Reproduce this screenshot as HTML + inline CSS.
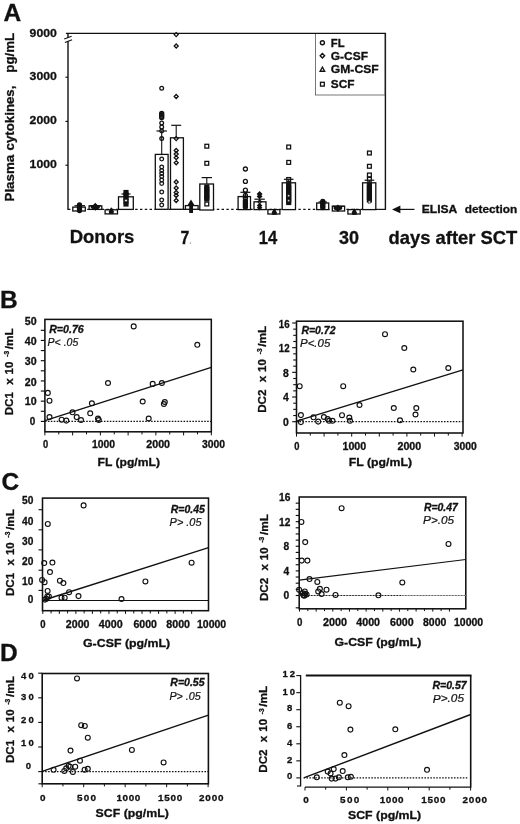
<!DOCTYPE html>
<html><head><meta charset="utf-8"><title>Figure</title>
<style>html,body{margin:0;padding:0;background:#fff;}svg{display:block;filter:blur(0.33px);}text{font-family:"Liberation Sans",sans-serif;fill:#111;}</style></head><body>
<svg width="520" height="824" viewBox="0 0 520 824">
<rect x="0" y="0" width="520" height="824" fill="#fff"/>
<text x="3.40" y="20.90" font-size="24.5" font-weight="bold" stroke="#111" stroke-width="0.3">A</text>
<g transform="translate(14.1 201.5) rotate(-90)" font-weight="bold" font-size="13.3" stroke="#111" stroke-width="0.3">
<text x="0" y="0" textLength="46.8" lengthAdjust="spacingAndGlyphs">Plasma</text>
<text x="51.1" y="0" textLength="64.8" lengthAdjust="spacingAndGlyphs">cytokines,</text>
<text x="128.8" y="0" textLength="39.7" lengthAdjust="spacingAndGlyphs">pg/mL</text>
</g>
<text x="29.60" y="37.40" font-size="11.3" font-weight="bold" textLength="27.20" lengthAdjust="spacingAndGlyphs" stroke="#111" stroke-width="0.3">9000</text>
<text x="29.60" y="80.00" font-size="11.3" font-weight="bold" textLength="27.20" lengthAdjust="spacingAndGlyphs" stroke="#111" stroke-width="0.3">3000</text>
<text x="29.60" y="123.80" font-size="11.3" font-weight="bold" textLength="27.20" lengthAdjust="spacingAndGlyphs" stroke="#111" stroke-width="0.3">2000</text>
<text x="29.60" y="168.00" font-size="11.3" font-weight="bold" textLength="27.20" lengthAdjust="spacingAndGlyphs" stroke="#111" stroke-width="0.3">1000</text>
<line x1="68.00" y1="33.40" x2="68.00" y2="37.70" stroke="#111" stroke-width="1.4"/>
<line x1="68.00" y1="41.00" x2="68.00" y2="209.90" stroke="#111" stroke-width="1.4"/>
<line x1="64.20" y1="39.00" x2="71.60" y2="36.30" stroke="#111" stroke-width="1.1"/>
<line x1="64.90" y1="42.60" x2="72.10" y2="39.70" stroke="#111" stroke-width="1.1"/>
<line x1="65.40" y1="77.20" x2="68.00" y2="77.20" stroke="#111" stroke-width="1.15"/>
<line x1="65.40" y1="121.40" x2="68.00" y2="121.40" stroke="#111" stroke-width="1.15"/>
<line x1="65.40" y1="165.20" x2="68.00" y2="165.20" stroke="#111" stroke-width="1.15"/>
<line x1="385.40" y1="33.40" x2="385.40" y2="209.90" stroke="#111" stroke-width="1.4"/>
<line x1="68.00" y1="209.40" x2="362.00" y2="209.40" stroke="#111" stroke-width="1.3" stroke-dasharray="2.4 2.4"/>
<line x1="376.00" y1="209.40" x2="385.40" y2="209.40" stroke="#111" stroke-width="1.2"/>
<rect x="72.80" y="207.10" width="12.50" height="3.90" fill="#fff" stroke="#111" stroke-width="1.3"/>
<rect x="89.10" y="205.90" width="12.70" height="3.50" fill="#fff" stroke="#111" stroke-width="1.3"/>
<rect x="105.10" y="209.80" width="12.40" height="4.10" fill="#fff" stroke="#111" stroke-width="1.3"/>
<rect x="118.50" y="196.80" width="14.80" height="12.60" fill="#fff" stroke="#111" stroke-width="1.3"/>
<circle cx="79.50" cy="205.00" r="2.0" fill="#111" stroke="#111" stroke-width="1.3"/>
<circle cx="79.50" cy="207.00" r="2.0" fill="#111" stroke="#111" stroke-width="1.3"/>
<circle cx="79.50" cy="209.00" r="2.0" fill="#111" stroke="#111" stroke-width="1.3"/>
<circle cx="79.50" cy="210.60" r="2.0" fill="#111" stroke="#111" stroke-width="1.3"/>
<line x1="74.50" y1="205.70" x2="85.00" y2="205.70" stroke="#111" stroke-width="1.2"/>
<path d="M95.30 203.70L97.60 206.00L95.30 208.30L93.00 206.00Z" fill="#111" stroke="#111" stroke-width="1.2"/>
<path d="M95.30 205.30L97.60 207.60L95.30 209.90L93.00 207.60Z" fill="#111" stroke="#111" stroke-width="1.2"/>
<ellipse cx="95.3" cy="207.0" rx="4.6" ry="2.3" fill="#111"/>
<line x1="89.50" y1="205.70" x2="101.00" y2="205.70" stroke="#111" stroke-width="1.2"/>
<path d="M111.30 207.80L113.50 211.76L109.10 211.76Z" fill="#111" stroke="#111" stroke-width="1.0"/>
<path d="M111.30 209.30L113.50 213.26L109.10 213.26Z" fill="#111" stroke="#111" stroke-width="1.0"/>
<rect x="124.10" y="190.60" width="3.80" height="3.80" fill="#111" stroke="#111" stroke-width="1.4"/>
<rect x="124.10" y="193.10" width="3.80" height="3.80" fill="#111" stroke="#111" stroke-width="1.4"/>
<rect x="124.10" y="196.10" width="3.80" height="3.80" fill="#111" stroke="#111" stroke-width="1.4"/>
<rect x="124.10" y="199.10" width="3.80" height="3.80" fill="#111" stroke="#111" stroke-width="1.4"/>
<rect x="124.10" y="202.10" width="3.80" height="3.80" fill="#111" stroke="#111" stroke-width="1.4"/>
<rect x="124.80" y="199.30" width="2.40" height="2.40" fill="#fff" stroke="#111" stroke-width="0.6"/>
<line x1="121.50" y1="194.00" x2="130.50" y2="194.00" stroke="#111" stroke-width="1.2"/>
<line x1="161.70" y1="131.00" x2="161.70" y2="154.40" stroke="#111" stroke-width="1.1"/>
<line x1="156.50" y1="131.00" x2="166.90" y2="131.00" stroke="#111" stroke-width="1.2"/>
<rect x="155.30" y="154.40" width="12.80" height="54.90" fill="#fff" stroke="#111" stroke-width="1.3"/>
<line x1="176.20" y1="125.30" x2="176.20" y2="137.80" stroke="#111" stroke-width="1.1"/>
<line x1="171.20" y1="125.30" x2="181.20" y2="125.30" stroke="#111" stroke-width="1.2"/>
<rect x="170.50" y="137.80" width="12.90" height="71.50" fill="#fff" stroke="#111" stroke-width="1.3"/>
<rect x="185.40" y="205.60" width="12.70" height="3.70" fill="#fff" stroke="#111" stroke-width="1.3"/>
<line x1="206.80" y1="177.60" x2="206.80" y2="184.00" stroke="#111" stroke-width="1.1"/>
<line x1="201.60" y1="177.60" x2="212.00" y2="177.60" stroke="#111" stroke-width="1.2"/>
<rect x="199.80" y="184.00" width="13.70" height="26.00" fill="#fff" stroke="#111" stroke-width="1.3"/>
<circle cx="161.70" cy="88.30" r="1.85" fill="none" stroke="#111" stroke-width="1.3"/>
<circle cx="161.70" cy="123.00" r="1.85" fill="none" stroke="#111" stroke-width="1.3"/>
<circle cx="161.70" cy="127.00" r="1.85" fill="none" stroke="#111" stroke-width="1.3"/>
<circle cx="161.70" cy="131.00" r="1.85" fill="none" stroke="#111" stroke-width="1.3"/>
<circle cx="161.70" cy="138.60" r="1.85" fill="none" stroke="#111" stroke-width="1.3"/>
<circle cx="161.70" cy="159.00" r="1.85" fill="none" stroke="#111" stroke-width="1.3"/>
<circle cx="161.70" cy="167.00" r="1.85" fill="none" stroke="#111" stroke-width="1.3"/>
<circle cx="161.70" cy="170.50" r="1.85" fill="none" stroke="#111" stroke-width="1.3"/>
<circle cx="161.70" cy="173.50" r="1.85" fill="none" stroke="#111" stroke-width="1.3"/>
<circle cx="161.70" cy="176.50" r="1.85" fill="none" stroke="#111" stroke-width="1.3"/>
<circle cx="161.70" cy="180.00" r="1.85" fill="none" stroke="#111" stroke-width="1.3"/>
<circle cx="161.70" cy="183.50" r="1.85" fill="none" stroke="#111" stroke-width="1.3"/>
<circle cx="161.70" cy="192.00" r="1.85" fill="none" stroke="#111" stroke-width="1.3"/>
<circle cx="161.70" cy="200.00" r="1.85" fill="none" stroke="#111" stroke-width="1.3"/>
<circle cx="161.70" cy="205.00" r="1.85" fill="none" stroke="#111" stroke-width="1.3"/>
<circle cx="161.70" cy="113.50" r="2.0" fill="#333" stroke="#111" stroke-width="1.4"/>
<circle cx="161.70" cy="115.50" r="2.0" fill="#333" stroke="#111" stroke-width="1.4"/>
<circle cx="161.70" cy="117.50" r="2.0" fill="#333" stroke="#111" stroke-width="1.4"/>
<path d="M176.20 32.60L178.20 34.60L176.20 36.60L174.20 34.60Z" fill="none" stroke="#111" stroke-width="1.3"/>
<path d="M176.20 44.00L178.20 46.00L176.20 48.00L174.20 46.00Z" fill="none" stroke="#111" stroke-width="1.3"/>
<path d="M176.20 94.50L178.20 96.50L176.20 98.50L174.20 96.50Z" fill="none" stroke="#111" stroke-width="1.3"/>
<path d="M176.20 136.60L178.20 138.60L176.20 140.60L174.20 138.60Z" fill="none" stroke="#111" stroke-width="1.3"/>
<path d="M176.20 148.50L178.20 150.50L176.20 152.50L174.20 150.50Z" fill="none" stroke="#111" stroke-width="1.3"/>
<path d="M176.20 152.00L178.20 154.00L176.20 156.00L174.20 154.00Z" fill="none" stroke="#111" stroke-width="1.3"/>
<path d="M176.20 155.70L178.20 157.70L176.20 159.70L174.20 157.70Z" fill="none" stroke="#111" stroke-width="1.3"/>
<path d="M176.20 160.80L178.20 162.80L176.20 164.80L174.20 162.80Z" fill="none" stroke="#111" stroke-width="1.3"/>
<path d="M176.20 180.00L178.20 182.00L176.20 184.00L174.20 182.00Z" fill="none" stroke="#111" stroke-width="1.3"/>
<path d="M176.20 186.00L178.20 188.00L176.20 190.00L174.20 188.00Z" fill="none" stroke="#111" stroke-width="1.3"/>
<path d="M176.20 190.50L178.20 192.50L176.20 194.50L174.20 192.50Z" fill="none" stroke="#111" stroke-width="1.3"/>
<path d="M176.20 193.50L178.20 195.50L176.20 197.50L174.20 195.50Z" fill="none" stroke="#111" stroke-width="1.3"/>
<path d="M176.20 198.50L178.20 200.50L176.20 202.50L174.20 200.50Z" fill="none" stroke="#111" stroke-width="1.3"/>
<path d="M191.0 199.6L194.8 205.8L193.0 205.8L193.0 213.0L189.2 213.0L189.2 205.8L187.2 205.8Z" fill="#111"/>
<rect x="204.90" y="144.30" width="3.80" height="3.80" fill="none" stroke="#111" stroke-width="1.3"/>
<rect x="204.90" y="161.40" width="3.80" height="3.80" fill="none" stroke="#111" stroke-width="1.3"/>
<rect x="204.90" y="202.10" width="3.80" height="3.80" fill="none" stroke="#111" stroke-width="1.3"/>
<rect x="204.90" y="185.10" width="3.80" height="3.80" fill="#111" stroke="#111" stroke-width="1.4"/>
<rect x="204.90" y="187.60" width="3.80" height="3.80" fill="#111" stroke="#111" stroke-width="1.4"/>
<rect x="204.90" y="190.10" width="3.80" height="3.80" fill="#111" stroke="#111" stroke-width="1.4"/>
<rect x="204.90" y="192.60" width="3.80" height="3.80" fill="#111" stroke="#111" stroke-width="1.4"/>
<rect x="204.90" y="195.10" width="3.80" height="3.80" fill="#111" stroke="#111" stroke-width="1.4"/>
<rect x="204.90" y="197.10" width="3.80" height="3.80" fill="#111" stroke="#111" stroke-width="1.4"/>
<line x1="245.40" y1="192.30" x2="245.40" y2="196.60" stroke="#111" stroke-width="1.1"/>
<line x1="240.40" y1="192.30" x2="250.40" y2="192.30" stroke="#111" stroke-width="1.2"/>
<rect x="238.10" y="196.60" width="12.40" height="13.00" fill="#fff" stroke="#111" stroke-width="1.3"/>
<line x1="259.60" y1="199.20" x2="259.60" y2="201.80" stroke="#111" stroke-width="1.1"/>
<line x1="254.40" y1="199.20" x2="264.80" y2="199.20" stroke="#111" stroke-width="1.2"/>
<rect x="254.00" y="201.80" width="12.00" height="7.80" fill="#fff" stroke="#111" stroke-width="1.3"/>
<rect x="267.90" y="209.60" width="12.00" height="4.40" fill="#fff" stroke="#111" stroke-width="1.3"/>
<line x1="288.70" y1="179.30" x2="288.70" y2="182.80" stroke="#111" stroke-width="1.1"/>
<line x1="283.90" y1="179.30" x2="293.50" y2="179.30" stroke="#111" stroke-width="1.2"/>
<rect x="282.20" y="182.80" width="13.30" height="26.80" fill="#fff" stroke="#111" stroke-width="1.3"/>
<circle cx="245.40" cy="169.00" r="2.0" fill="none" stroke="#111" stroke-width="1.3"/>
<circle cx="245.40" cy="181.40" r="2.0" fill="none" stroke="#111" stroke-width="1.3"/>
<circle cx="245.40" cy="190.20" r="2.0" fill="none" stroke="#111" stroke-width="1.3"/>
<circle cx="245.40" cy="195.50" r="2.0" fill="none" stroke="#111" stroke-width="1.3"/>
<circle cx="245.40" cy="198.00" r="2.0" fill="none" stroke="#111" stroke-width="1.3"/>
<circle cx="245.40" cy="201.00" r="2.0" fill="#111" stroke="#111" stroke-width="1.4"/>
<circle cx="245.40" cy="203.00" r="2.0" fill="#111" stroke="#111" stroke-width="1.4"/>
<circle cx="245.40" cy="205.00" r="2.0" fill="#111" stroke="#111" stroke-width="1.4"/>
<circle cx="245.40" cy="207.00" r="2.0" fill="#111" stroke="#111" stroke-width="1.4"/>
<path d="M259.60 191.90L261.70 194.00L259.60 196.10L257.50 194.00Z" fill="#111" stroke="#111" stroke-width="1.2"/>
<path d="M259.60 194.30L261.70 196.40L259.60 198.50L257.50 196.40Z" fill="#111" stroke="#111" stroke-width="1.2"/>
<path d="M259.60 203.70L261.50 205.60L259.60 207.50L257.70 205.60Z" fill="#111" stroke="#111" stroke-width="1.2"/>
<path d="M259.60 205.90L261.50 207.80L259.60 209.70L257.70 207.80Z" fill="#111" stroke="#111" stroke-width="1.2"/>
<path d="M259.60 200.00L261.40 201.80L259.60 203.60L257.80 201.80Z" fill="none" stroke="#111" stroke-width="1.1"/>
<path d="M274.30 208.80L276.50 212.76L272.10 212.76Z" fill="#111" stroke="#111" stroke-width="1.0"/>
<path d="M274.30 210.30L276.50 214.26L272.10 214.26Z" fill="#111" stroke="#111" stroke-width="1.0"/>
<rect x="286.80" y="145.10" width="3.80" height="3.80" fill="none" stroke="#111" stroke-width="1.3"/>
<rect x="286.80" y="160.50" width="3.80" height="3.80" fill="none" stroke="#111" stroke-width="1.3"/>
<rect x="286.80" y="177.60" width="3.80" height="3.80" fill="none" stroke="#111" stroke-width="1.3"/>
<rect x="286.80" y="183.10" width="3.80" height="3.80" fill="#111" stroke="#111" stroke-width="1.4"/>
<rect x="286.80" y="185.60" width="3.80" height="3.80" fill="#111" stroke="#111" stroke-width="1.4"/>
<rect x="286.80" y="188.10" width="3.80" height="3.80" fill="#111" stroke="#111" stroke-width="1.4"/>
<rect x="286.80" y="190.60" width="3.80" height="3.80" fill="#111" stroke="#111" stroke-width="1.4"/>
<rect x="286.80" y="193.10" width="3.80" height="3.80" fill="#111" stroke="#111" stroke-width="1.4"/>
<rect x="286.80" y="195.60" width="3.80" height="3.80" fill="#111" stroke="#111" stroke-width="1.4"/>
<rect x="286.80" y="198.10" width="3.80" height="3.80" fill="#111" stroke="#111" stroke-width="1.4"/>
<rect x="286.80" y="200.60" width="3.80" height="3.80" fill="#111" stroke="#111" stroke-width="1.4"/>
<rect x="287.60" y="194.70" width="2.20" height="2.20" fill="#ccc" stroke="#111" stroke-width="0.5"/>
<rect x="287.60" y="199.60" width="2.20" height="2.20" fill="#ccc" stroke="#111" stroke-width="0.5"/>
<rect x="316.70" y="203.00" width="12.00" height="6.60" fill="#fff" stroke="#111" stroke-width="1.3"/>
<rect x="332.30" y="206.10" width="12.30" height="4.90" fill="#fff" stroke="#111" stroke-width="1.3"/>
<rect x="347.90" y="209.60" width="12.30" height="4.40" fill="#fff" stroke="#111" stroke-width="1.3"/>
<line x1="369.40" y1="180.20" x2="369.40" y2="182.80" stroke="#111" stroke-width="1.1"/>
<line x1="364.60" y1="180.20" x2="374.20" y2="180.20" stroke="#111" stroke-width="1.2"/>
<rect x="362.60" y="182.80" width="13.20" height="26.80" fill="#fff" stroke="#111" stroke-width="1.3"/>
<circle cx="322.80" cy="201.50" r="2.0" fill="#111" stroke="#111" stroke-width="1.4"/>
<circle cx="322.80" cy="203.50" r="2.0" fill="#111" stroke="#111" stroke-width="1.4"/>
<circle cx="322.80" cy="205.50" r="2.0" fill="#111" stroke="#111" stroke-width="1.4"/>
<circle cx="322.80" cy="207.50" r="2.0" fill="#111" stroke="#111" stroke-width="1.4"/>
<line x1="318.50" y1="202.00" x2="327.00" y2="202.00" stroke="#111" stroke-width="1.2"/>
<path d="M337.90 205.30L340.00 207.40L337.90 209.50L335.80 207.40Z" fill="#111" stroke="#111" stroke-width="1.2"/>
<path d="M337.90 206.90L340.00 209.00L337.90 211.10L335.80 209.00Z" fill="#111" stroke="#111" stroke-width="1.2"/>
<ellipse cx="337.9" cy="208.0" rx="4.4" ry="2.2" fill="#111"/>
<line x1="332.80" y1="206.40" x2="343.60" y2="206.40" stroke="#111" stroke-width="1.2"/>
<path d="M354.30 208.80L356.50 212.76L352.10 212.76Z" fill="#111" stroke="#111" stroke-width="1.0"/>
<path d="M354.30 210.30L356.50 214.26L352.10 214.26Z" fill="#111" stroke="#111" stroke-width="1.0"/>
<rect x="367.50" y="151.10" width="3.80" height="3.80" fill="none" stroke="#111" stroke-width="1.3"/>
<rect x="367.50" y="164.40" width="3.80" height="3.80" fill="none" stroke="#111" stroke-width="1.3"/>
<rect x="367.50" y="173.10" width="3.80" height="3.80" fill="none" stroke="#111" stroke-width="1.3"/>
<rect x="367.50" y="177.30" width="3.80" height="3.80" fill="none" stroke="#111" stroke-width="1.3"/>
<rect x="367.50" y="183.10" width="3.80" height="3.80" fill="#111" stroke="#111" stroke-width="1.4"/>
<rect x="367.50" y="185.60" width="3.80" height="3.80" fill="#111" stroke="#111" stroke-width="1.4"/>
<rect x="367.50" y="188.10" width="3.80" height="3.80" fill="#111" stroke="#111" stroke-width="1.4"/>
<rect x="367.50" y="190.60" width="3.80" height="3.80" fill="#111" stroke="#111" stroke-width="1.4"/>
<rect x="367.50" y="193.10" width="3.80" height="3.80" fill="#111" stroke="#111" stroke-width="1.4"/>
<rect x="367.50" y="195.60" width="3.80" height="3.80" fill="#111" stroke="#111" stroke-width="1.4"/>
<rect x="367.50" y="198.10" width="3.80" height="3.80" fill="#111" stroke="#111" stroke-width="1.4"/>
<rect x="368.20" y="200.80" width="2.40" height="2.40" fill="#ccc" stroke="#111" stroke-width="0.5"/>
<rect x="315.40" y="33.60" width="69.40" height="61.40" fill="#fff" stroke="#555" stroke-width="0.8"/>
<circle cx="322.40" cy="42.70" r="2.0" fill="none" stroke="#111" stroke-width="1.4"/>
<path d="M322.40 53.60L324.60 55.80L322.40 58.00L320.20 55.80Z" fill="none" stroke="#111" stroke-width="1.4"/>
<path d="M322.40 67.10L324.70 71.24L320.10 71.24Z" fill="none" stroke="#111" stroke-width="1.3"/>
<rect x="320.50" y="82.30" width="3.80" height="3.80" fill="none" stroke="#111" stroke-width="1.3"/>
<text x="330.80" y="46.50" font-size="11.4" font-weight="bold" textLength="13.80" lengthAdjust="spacingAndGlyphs" stroke="#111" stroke-width="0.3">FL</text>
<text x="330.80" y="59.70" font-size="11.4" font-weight="bold" textLength="37.20" lengthAdjust="spacingAndGlyphs" stroke="#111" stroke-width="0.3">G-CSF</text>
<text x="330.80" y="73.20" font-size="11.4" font-weight="bold" textLength="47.90" lengthAdjust="spacingAndGlyphs" stroke="#111" stroke-width="0.3">GM-CSF</text>
<text x="330.80" y="88.20" font-size="11.4" font-weight="bold" textLength="23.70" lengthAdjust="spacingAndGlyphs" stroke="#111" stroke-width="0.3">SCF</text>
<line x1="65.90" y1="33.40" x2="386.00" y2="33.40" stroke="#111" stroke-width="1.4"/>
<line x1="396.00" y1="209.40" x2="414.50" y2="209.40" stroke="#111" stroke-width="1.2"/>
<path d="M392.0 209.4L400.4 205.5L400.4 213.3Z" fill="#111"/>
<text x="421.70" y="212.90" font-size="10.5" font-weight="bold" textLength="35.60" lengthAdjust="spacingAndGlyphs" stroke="#111" stroke-width="0.3">ELISA</text>
<text x="464.80" y="212.90" font-size="10.5" font-weight="bold" textLength="52.40" lengthAdjust="spacingAndGlyphs" stroke="#111" stroke-width="0.3">detection</text>
<text x="69.70" y="243.40" font-size="18.1" font-weight="bold" textLength="64.70" lengthAdjust="spacingAndGlyphs" stroke="#111" stroke-width="0.3">Donors</text>
<text x="180.60" y="243.50" font-size="18.0" font-weight="bold" textLength="8.80" lengthAdjust="spacingAndGlyphs" stroke="#111" stroke-width="0.3">7</text>
<circle cx="190.3" cy="243.0" r="0.55" fill="#333"/>
<text x="258.80" y="243.50" font-size="18.0" font-weight="bold" textLength="18.40" lengthAdjust="spacingAndGlyphs" stroke="#111" stroke-width="0.3">14</text>
<text x="339.00" y="243.50" font-size="18.0" font-weight="bold" textLength="20.00" lengthAdjust="spacingAndGlyphs" stroke="#111" stroke-width="0.3">30</text>
<text x="388.60" y="243.60" font-size="18.2" font-weight="bold" textLength="128.70" lengthAdjust="spacingAndGlyphs" stroke="#111" stroke-width="0.3">days after SCT</text>
<text x="-0.10" y="307.90" font-size="24.5" font-weight="bold" stroke="#111" stroke-width="0.3">B</text>
<rect x="44.90" y="319.40" width="166.40" height="112.40" fill="none" stroke="#111" stroke-width="1.55"/>
<line x1="44.90" y1="421.40" x2="211.30" y2="421.40" stroke="#111" stroke-width="1.3" stroke-dasharray="1.55 1.4"/>
<line x1="40.80" y1="421.40" x2="44.90" y2="421.40" stroke="#111" stroke-width="1.15"/>
<line x1="40.80" y1="411.28" x2="44.90" y2="411.28" stroke="#111" stroke-width="1.15"/>
<line x1="40.80" y1="401.16" x2="44.90" y2="401.16" stroke="#111" stroke-width="1.15"/>
<line x1="40.80" y1="391.04" x2="44.90" y2="391.04" stroke="#111" stroke-width="1.15"/>
<line x1="40.80" y1="380.92" x2="44.90" y2="380.92" stroke="#111" stroke-width="1.15"/>
<line x1="40.80" y1="370.80" x2="44.90" y2="370.80" stroke="#111" stroke-width="1.15"/>
<line x1="40.80" y1="360.68" x2="44.90" y2="360.68" stroke="#111" stroke-width="1.15"/>
<line x1="40.80" y1="350.56" x2="44.90" y2="350.56" stroke="#111" stroke-width="1.15"/>
<line x1="40.80" y1="340.44" x2="44.90" y2="340.44" stroke="#111" stroke-width="1.15"/>
<line x1="40.80" y1="330.32" x2="44.90" y2="330.32" stroke="#111" stroke-width="1.15"/>
<text x="24.80" y="325.30" font-size="10.4" font-weight="bold" textLength="11.80" lengthAdjust="spacingAndGlyphs" stroke="#111" stroke-width="0.3">50</text>
<text x="24.80" y="345.20" font-size="10.4" font-weight="bold" textLength="11.80" lengthAdjust="spacingAndGlyphs" stroke="#111" stroke-width="0.3">40</text>
<text x="24.80" y="365.40" font-size="10.4" font-weight="bold" textLength="11.80" lengthAdjust="spacingAndGlyphs" stroke="#111" stroke-width="0.3">30</text>
<text x="24.80" y="385.80" font-size="10.4" font-weight="bold" textLength="11.80" lengthAdjust="spacingAndGlyphs" stroke="#111" stroke-width="0.3">20</text>
<text x="24.80" y="405.30" font-size="10.4" font-weight="bold" textLength="11.80" lengthAdjust="spacingAndGlyphs" stroke="#111" stroke-width="0.3">10</text>
<text x="29.70" y="425.30" font-size="10.4" font-weight="bold" textLength="5.50" lengthAdjust="spacingAndGlyphs" stroke="#111" stroke-width="0.3">0</text>
<line x1="44.90" y1="431.80" x2="44.90" y2="435.40" stroke="#111" stroke-width="1.0"/>
<line x1="58.77" y1="431.80" x2="58.77" y2="434.40" stroke="#111" stroke-width="1.0"/>
<line x1="72.64" y1="431.80" x2="72.64" y2="435.40" stroke="#111" stroke-width="1.0"/>
<line x1="86.51" y1="431.80" x2="86.51" y2="434.40" stroke="#111" stroke-width="1.0"/>
<line x1="100.38" y1="431.80" x2="100.38" y2="435.40" stroke="#111" stroke-width="1.0"/>
<line x1="114.25" y1="431.80" x2="114.25" y2="434.40" stroke="#111" stroke-width="1.0"/>
<line x1="128.12" y1="431.80" x2="128.12" y2="435.40" stroke="#111" stroke-width="1.0"/>
<line x1="141.99" y1="431.80" x2="141.99" y2="434.40" stroke="#111" stroke-width="1.0"/>
<line x1="155.86" y1="431.80" x2="155.86" y2="435.40" stroke="#111" stroke-width="1.0"/>
<line x1="169.73" y1="431.80" x2="169.73" y2="434.40" stroke="#111" stroke-width="1.0"/>
<line x1="183.60" y1="431.80" x2="183.60" y2="435.40" stroke="#111" stroke-width="1.0"/>
<line x1="197.47" y1="431.80" x2="197.47" y2="434.40" stroke="#111" stroke-width="1.0"/>
<line x1="211.34" y1="431.80" x2="211.34" y2="435.40" stroke="#111" stroke-width="1.0"/>
<text x="43.00" y="448.20" font-size="10.0" font-weight="bold" textLength="5.20" lengthAdjust="spacingAndGlyphs" stroke="#111" stroke-width="0.3">0</text>
<text x="92.00" y="448.20" font-size="10.0" font-weight="bold" textLength="23.00" lengthAdjust="spacingAndGlyphs" stroke="#111" stroke-width="0.3">1000</text>
<text x="146.30" y="448.20" font-size="10.0" font-weight="bold" textLength="23.70" lengthAdjust="spacingAndGlyphs" stroke="#111" stroke-width="0.3">2000</text>
<text x="202.00" y="448.20" font-size="10.0" font-weight="bold" textLength="23.00" lengthAdjust="spacingAndGlyphs" stroke="#111" stroke-width="0.3">3000</text>
<text x="97.50" y="465.80" font-size="11.6" font-weight="bold" textLength="62.50" lengthAdjust="spacingAndGlyphs" stroke="#111" stroke-width="0.3">FL (pg/mL)</text>
<g transform="translate(12.60 415.30) rotate(-90)" font-weight="bold" font-size="11.6" stroke="#111" stroke-width="0.3">
<text x="0" y="0">DC1</text>
<text x="30.5" y="0">x</text>
<text x="40.9" y="0">10</text>
<text x="58.5" y="-3.6" font-size="6.6">-3</text>
<text x="66.0" y="0" textLength="21.0" lengthAdjust="spacingAndGlyphs">/mL</text>
</g>
<text x="49.20" y="332.60" font-size="10.5" font-weight="bold" font-style="italic" textLength="34.60" lengthAdjust="spacingAndGlyphs" stroke="#111" stroke-width="0.3">R=0.76</text>
<text x="47.60" y="346.00" font-size="10.5" font-weight="normal" font-style="italic" textLength="30.70" lengthAdjust="spacingAndGlyphs" fill="#1a1a1a" stroke="#1a1a1a" stroke-width="0.22">P&lt; .05</text>
<line x1="44.90" y1="420.70" x2="211.30" y2="367.30" stroke="#111" stroke-width="1.4"/>
<circle cx="47.80" cy="392.90" r="2.45" fill="none" stroke="#111" stroke-width="1.15"/>
<circle cx="49.50" cy="400.70" r="2.45" fill="none" stroke="#111" stroke-width="1.15"/>
<circle cx="49.50" cy="417.10" r="2.45" fill="none" stroke="#111" stroke-width="1.15"/>
<circle cx="61.60" cy="419.70" r="2.45" fill="none" stroke="#111" stroke-width="1.15"/>
<circle cx="66.30" cy="420.60" r="2.45" fill="none" stroke="#111" stroke-width="1.15"/>
<circle cx="72.50" cy="412.30" r="2.45" fill="none" stroke="#111" stroke-width="1.15"/>
<circle cx="76.70" cy="417.10" r="2.45" fill="none" stroke="#111" stroke-width="1.15"/>
<circle cx="81.00" cy="420.00" r="2.45" fill="none" stroke="#111" stroke-width="1.15"/>
<circle cx="90.20" cy="413.30" r="2.45" fill="none" stroke="#111" stroke-width="1.15"/>
<circle cx="91.90" cy="403.30" r="2.45" fill="none" stroke="#111" stroke-width="1.15"/>
<circle cx="98.00" cy="418.50" r="2.45" fill="none" stroke="#111" stroke-width="1.15"/>
<circle cx="98.80" cy="420.00" r="2.45" fill="none" stroke="#111" stroke-width="1.15"/>
<circle cx="108.00" cy="383.00" r="2.45" fill="none" stroke="#111" stroke-width="1.15"/>
<circle cx="133.70" cy="326.40" r="2.45" fill="none" stroke="#111" stroke-width="1.15"/>
<circle cx="197.30" cy="344.80" r="2.45" fill="none" stroke="#111" stroke-width="1.15"/>
<circle cx="152.70" cy="383.90" r="2.45" fill="none" stroke="#111" stroke-width="1.15"/>
<circle cx="161.90" cy="383.00" r="2.45" fill="none" stroke="#111" stroke-width="1.15"/>
<circle cx="142.70" cy="401.50" r="2.45" fill="none" stroke="#111" stroke-width="1.15"/>
<circle cx="164.80" cy="402.00" r="2.45" fill="none" stroke="#111" stroke-width="1.15"/>
<circle cx="163.90" cy="404.00" r="2.45" fill="none" stroke="#111" stroke-width="1.15"/>
<circle cx="148.70" cy="418.50" r="2.45" fill="none" stroke="#111" stroke-width="1.15"/>
<rect x="296.50" y="321.20" width="166.50" height="111.80" fill="none" stroke="#111" stroke-width="1.55"/>
<line x1="296.50" y1="421.70" x2="463.00" y2="421.70" stroke="#111" stroke-width="1.3" stroke-dasharray="1.55 1.4"/>
<line x1="292.20" y1="421.70" x2="296.50" y2="421.70" stroke="#111" stroke-width="1.15"/>
<line x1="293.20" y1="415.53" x2="296.50" y2="415.53" stroke="#111" stroke-width="1.1"/>
<line x1="293.20" y1="409.36" x2="296.50" y2="409.36" stroke="#111" stroke-width="1.1"/>
<line x1="293.20" y1="403.19" x2="296.50" y2="403.19" stroke="#111" stroke-width="1.1"/>
<line x1="292.20" y1="397.02" x2="296.50" y2="397.02" stroke="#111" stroke-width="1.15"/>
<line x1="293.20" y1="390.85" x2="296.50" y2="390.85" stroke="#111" stroke-width="1.1"/>
<line x1="293.20" y1="384.68" x2="296.50" y2="384.68" stroke="#111" stroke-width="1.1"/>
<line x1="293.20" y1="378.51" x2="296.50" y2="378.51" stroke="#111" stroke-width="1.1"/>
<line x1="292.20" y1="372.34" x2="296.50" y2="372.34" stroke="#111" stroke-width="1.15"/>
<line x1="293.20" y1="366.17" x2="296.50" y2="366.17" stroke="#111" stroke-width="1.1"/>
<line x1="293.20" y1="360.00" x2="296.50" y2="360.00" stroke="#111" stroke-width="1.1"/>
<line x1="293.20" y1="353.83" x2="296.50" y2="353.83" stroke="#111" stroke-width="1.1"/>
<line x1="292.20" y1="347.66" x2="296.50" y2="347.66" stroke="#111" stroke-width="1.15"/>
<line x1="293.20" y1="341.49" x2="296.50" y2="341.49" stroke="#111" stroke-width="1.1"/>
<line x1="293.20" y1="335.32" x2="296.50" y2="335.32" stroke="#111" stroke-width="1.1"/>
<line x1="293.20" y1="329.15" x2="296.50" y2="329.15" stroke="#111" stroke-width="1.1"/>
<line x1="292.20" y1="322.98" x2="296.50" y2="322.98" stroke="#111" stroke-width="1.15"/>
<text x="278.80" y="328.00" font-size="10.3" font-weight="bold" textLength="10.80" lengthAdjust="spacingAndGlyphs" stroke="#111" stroke-width="0.3">16</text>
<text x="278.80" y="352.20" font-size="10.3" font-weight="bold" textLength="10.80" lengthAdjust="spacingAndGlyphs" stroke="#111" stroke-width="0.3">12</text>
<text x="283.10" y="376.90" font-size="10.3" font-weight="bold" textLength="5.80" lengthAdjust="spacingAndGlyphs" stroke="#111" stroke-width="0.3">8</text>
<text x="283.10" y="401.40" font-size="10.3" font-weight="bold" textLength="5.80" lengthAdjust="spacingAndGlyphs" stroke="#111" stroke-width="0.3">4</text>
<text x="283.10" y="426.00" font-size="10.3" font-weight="bold" textLength="5.80" lengthAdjust="spacingAndGlyphs" stroke="#111" stroke-width="0.3">0</text>
<line x1="296.50" y1="433.00" x2="296.50" y2="436.60" stroke="#111" stroke-width="1.0"/>
<line x1="310.30" y1="433.00" x2="310.30" y2="435.60" stroke="#111" stroke-width="1.0"/>
<line x1="324.10" y1="433.00" x2="324.10" y2="436.60" stroke="#111" stroke-width="1.0"/>
<line x1="337.90" y1="433.00" x2="337.90" y2="435.60" stroke="#111" stroke-width="1.0"/>
<line x1="351.70" y1="433.00" x2="351.70" y2="436.60" stroke="#111" stroke-width="1.0"/>
<line x1="365.50" y1="433.00" x2="365.50" y2="435.60" stroke="#111" stroke-width="1.0"/>
<line x1="379.30" y1="433.00" x2="379.30" y2="436.60" stroke="#111" stroke-width="1.0"/>
<line x1="393.10" y1="433.00" x2="393.10" y2="435.60" stroke="#111" stroke-width="1.0"/>
<line x1="406.90" y1="433.00" x2="406.90" y2="436.60" stroke="#111" stroke-width="1.0"/>
<line x1="420.70" y1="433.00" x2="420.70" y2="435.60" stroke="#111" stroke-width="1.0"/>
<line x1="434.50" y1="433.00" x2="434.50" y2="436.60" stroke="#111" stroke-width="1.0"/>
<line x1="448.30" y1="433.00" x2="448.30" y2="435.60" stroke="#111" stroke-width="1.0"/>
<line x1="462.10" y1="433.00" x2="462.10" y2="436.60" stroke="#111" stroke-width="1.0"/>
<text x="294.30" y="449.80" font-size="10.0" font-weight="bold" textLength="5.20" lengthAdjust="spacingAndGlyphs" stroke="#111" stroke-width="0.3">0</text>
<text x="342.50" y="449.80" font-size="10.0" font-weight="bold" textLength="23.70" lengthAdjust="spacingAndGlyphs" stroke="#111" stroke-width="0.3">1000</text>
<text x="397.50" y="449.80" font-size="10.0" font-weight="bold" textLength="23.70" lengthAdjust="spacingAndGlyphs" stroke="#111" stroke-width="0.3">2000</text>
<text x="453.70" y="449.80" font-size="10.0" font-weight="bold" textLength="23.00" lengthAdjust="spacingAndGlyphs" stroke="#111" stroke-width="0.3">3000</text>
<text x="348.80" y="466.00" font-size="11.6" font-weight="bold" textLength="63.20" lengthAdjust="spacingAndGlyphs" stroke="#111" stroke-width="0.3">FL (pg/mL)</text>
<g transform="translate(265.70 412.80) rotate(-90)" font-weight="bold" font-size="11.6" stroke="#111" stroke-width="0.3">
<text x="0" y="0">DC2</text>
<text x="30.5" y="0">x</text>
<text x="40.9" y="0">10</text>
<text x="58.5" y="-3.6" font-size="6.6">-3</text>
<text x="66.0" y="0" textLength="21.0" lengthAdjust="spacingAndGlyphs">/mL</text>
</g>
<text x="301.40" y="333.90" font-size="10.5" font-weight="bold" font-style="italic" textLength="34.10" lengthAdjust="spacingAndGlyphs" stroke="#111" stroke-width="0.3">R=0.72</text>
<text x="300.00" y="347.20" font-size="10.5" font-weight="normal" font-style="italic" textLength="30.30" lengthAdjust="spacingAndGlyphs" fill="#1a1a1a" stroke="#1a1a1a" stroke-width="0.22">P&lt;.05</text>
<line x1="296.50" y1="421.10" x2="463.00" y2="369.90" stroke="#111" stroke-width="1.4"/>
<circle cx="299.70" cy="386.20" r="2.45" fill="none" stroke="#111" stroke-width="1.15"/>
<circle cx="300.90" cy="415.10" r="2.45" fill="none" stroke="#111" stroke-width="1.15"/>
<circle cx="300.90" cy="422.10" r="2.45" fill="none" stroke="#111" stroke-width="1.15"/>
<circle cx="313.50" cy="417.30" r="2.45" fill="none" stroke="#111" stroke-width="1.15"/>
<circle cx="318.20" cy="421.60" r="2.45" fill="none" stroke="#111" stroke-width="1.15"/>
<circle cx="323.90" cy="417.00" r="2.45" fill="none" stroke="#111" stroke-width="1.15"/>
<circle cx="327.70" cy="419.00" r="2.45" fill="none" stroke="#111" stroke-width="1.15"/>
<circle cx="329.10" cy="420.80" r="2.45" fill="none" stroke="#111" stroke-width="1.15"/>
<circle cx="332.50" cy="420.80" r="2.45" fill="none" stroke="#111" stroke-width="1.15"/>
<circle cx="342.00" cy="415.20" r="2.45" fill="none" stroke="#111" stroke-width="1.15"/>
<circle cx="343.20" cy="386.20" r="2.45" fill="none" stroke="#111" stroke-width="1.15"/>
<circle cx="349.30" cy="417.50" r="2.45" fill="none" stroke="#111" stroke-width="1.15"/>
<circle cx="350.00" cy="420.80" r="2.45" fill="none" stroke="#111" stroke-width="1.15"/>
<circle cx="359.50" cy="405.00" r="2.45" fill="none" stroke="#111" stroke-width="1.15"/>
<circle cx="385.00" cy="334.20" r="2.45" fill="none" stroke="#111" stroke-width="1.15"/>
<circle cx="404.30" cy="348.00" r="2.45" fill="none" stroke="#111" stroke-width="1.15"/>
<circle cx="413.30" cy="369.50" r="2.45" fill="none" stroke="#111" stroke-width="1.15"/>
<circle cx="448.30" cy="368.00" r="2.45" fill="none" stroke="#111" stroke-width="1.15"/>
<circle cx="393.80" cy="408.00" r="2.45" fill="none" stroke="#111" stroke-width="1.15"/>
<circle cx="416.30" cy="408.00" r="2.45" fill="none" stroke="#111" stroke-width="1.15"/>
<circle cx="415.50" cy="414.50" r="2.45" fill="none" stroke="#111" stroke-width="1.15"/>
<circle cx="400.00" cy="420.30" r="2.45" fill="none" stroke="#111" stroke-width="1.15"/>
<text x="1.40" y="489.50" font-size="24.5" font-weight="bold" stroke="#111" stroke-width="0.3">C</text>
<rect x="42.50" y="498.10" width="166.00" height="112.60" fill="none" stroke="#111" stroke-width="1.55"/>
<line x1="42.50" y1="600.50" x2="208.50" y2="600.50" stroke="#111" stroke-width="1.1"/>
<line x1="38.50" y1="509.70" x2="42.50" y2="509.70" stroke="#111" stroke-width="1.1"/>
<line x1="38.50" y1="529.80" x2="42.50" y2="529.80" stroke="#111" stroke-width="1.1"/>
<line x1="38.50" y1="549.90" x2="42.50" y2="549.90" stroke="#111" stroke-width="1.1"/>
<line x1="38.50" y1="570.20" x2="42.50" y2="570.20" stroke="#111" stroke-width="1.1"/>
<line x1="38.50" y1="590.40" x2="42.50" y2="590.40" stroke="#111" stroke-width="1.1"/>
<text x="22.10" y="504.30" font-size="10.4" font-weight="bold" textLength="11.30" lengthAdjust="spacingAndGlyphs" stroke="#111" stroke-width="0.3">50</text>
<text x="22.10" y="524.60" font-size="10.4" font-weight="bold" textLength="11.30" lengthAdjust="spacingAndGlyphs" stroke="#111" stroke-width="0.3">40</text>
<text x="22.10" y="544.50" font-size="10.4" font-weight="bold" textLength="11.30" lengthAdjust="spacingAndGlyphs" stroke="#111" stroke-width="0.3">30</text>
<text x="22.10" y="565.00" font-size="10.4" font-weight="bold" textLength="11.30" lengthAdjust="spacingAndGlyphs" stroke="#111" stroke-width="0.3">20</text>
<text x="22.10" y="584.50" font-size="10.4" font-weight="bold" textLength="11.30" lengthAdjust="spacingAndGlyphs" stroke="#111" stroke-width="0.3">10</text>
<text x="27.80" y="603.10" font-size="10.4" font-weight="bold" textLength="5.60" lengthAdjust="spacingAndGlyphs" stroke="#111" stroke-width="0.3">0</text>
<line x1="42.80" y1="610.70" x2="42.80" y2="613.90" stroke="#111" stroke-width="1.0"/>
<line x1="51.07" y1="610.70" x2="51.07" y2="613.40" stroke="#111" stroke-width="1.0"/>
<line x1="59.34" y1="610.70" x2="59.34" y2="613.90" stroke="#111" stroke-width="1.0"/>
<line x1="67.61" y1="610.70" x2="67.61" y2="613.40" stroke="#111" stroke-width="1.0"/>
<line x1="75.88" y1="610.70" x2="75.88" y2="613.90" stroke="#111" stroke-width="1.0"/>
<line x1="84.15" y1="610.70" x2="84.15" y2="613.40" stroke="#111" stroke-width="1.0"/>
<line x1="92.42" y1="610.70" x2="92.42" y2="613.90" stroke="#111" stroke-width="1.0"/>
<line x1="100.69" y1="610.70" x2="100.69" y2="613.40" stroke="#111" stroke-width="1.0"/>
<line x1="108.96" y1="610.70" x2="108.96" y2="613.90" stroke="#111" stroke-width="1.0"/>
<line x1="117.23" y1="610.70" x2="117.23" y2="613.40" stroke="#111" stroke-width="1.0"/>
<line x1="125.50" y1="610.70" x2="125.50" y2="613.90" stroke="#111" stroke-width="1.0"/>
<line x1="133.77" y1="610.70" x2="133.77" y2="613.40" stroke="#111" stroke-width="1.0"/>
<line x1="142.04" y1="610.70" x2="142.04" y2="613.90" stroke="#111" stroke-width="1.0"/>
<line x1="150.31" y1="610.70" x2="150.31" y2="613.40" stroke="#111" stroke-width="1.0"/>
<line x1="158.58" y1="610.70" x2="158.58" y2="613.90" stroke="#111" stroke-width="1.0"/>
<line x1="166.85" y1="610.70" x2="166.85" y2="613.40" stroke="#111" stroke-width="1.0"/>
<line x1="175.12" y1="610.70" x2="175.12" y2="613.90" stroke="#111" stroke-width="1.0"/>
<line x1="183.39" y1="610.70" x2="183.39" y2="613.40" stroke="#111" stroke-width="1.0"/>
<line x1="191.66" y1="610.70" x2="191.66" y2="613.90" stroke="#111" stroke-width="1.0"/>
<text x="40.20" y="627.80" font-size="10.2" font-weight="bold" textLength="5.30" lengthAdjust="spacingAndGlyphs" stroke="#111" stroke-width="0.3">0</text>
<text x="65.80" y="627.80" font-size="10.2" font-weight="bold" textLength="23.70" lengthAdjust="spacingAndGlyphs" stroke="#111" stroke-width="0.3">2000</text>
<text x="98.80" y="627.80" font-size="10.2" font-weight="bold" textLength="23.80" lengthAdjust="spacingAndGlyphs" stroke="#111" stroke-width="0.3">4000</text>
<text x="133.50" y="627.80" font-size="10.2" font-weight="bold" textLength="23.50" lengthAdjust="spacingAndGlyphs" stroke="#111" stroke-width="0.3">6000</text>
<text x="166.30" y="627.80" font-size="10.2" font-weight="bold" textLength="23.70" lengthAdjust="spacingAndGlyphs" stroke="#111" stroke-width="0.3">8000</text>
<text x="197.00" y="627.80" font-size="10.2" font-weight="bold" textLength="29.20" lengthAdjust="spacingAndGlyphs" stroke="#111" stroke-width="0.3">10000</text>
<text x="83.00" y="646.60" font-size="11.6" font-weight="bold" textLength="87.20" lengthAdjust="spacingAndGlyphs" stroke="#111" stroke-width="0.3">G-CSF (pg/mL)</text>
<g transform="translate(13.60 596.00) rotate(-90)" font-weight="bold" font-size="11.6" stroke="#111" stroke-width="0.3">
<text x="0" y="0">DC1</text>
<text x="30.5" y="0">x</text>
<text x="40.9" y="0">10</text>
<text x="58.5" y="-3.6" font-size="6.6">-3</text>
<text x="66.0" y="0" textLength="21.0" lengthAdjust="spacingAndGlyphs">/mL</text>
</g>
<text x="170.70" y="512.90" font-size="10.5" font-weight="bold" font-style="italic" textLength="34.20" lengthAdjust="spacingAndGlyphs" stroke="#111" stroke-width="0.3">R=0.45</text>
<text x="169.60" y="525.60" font-size="10.5" font-weight="normal" font-style="italic" textLength="31.90" lengthAdjust="spacingAndGlyphs" fill="#1a1a1a" stroke="#1a1a1a" stroke-width="0.22">P&gt; .05</text>
<line x1="42.50" y1="600.50" x2="208.50" y2="547.60" stroke="#111" stroke-width="1.4"/>
<circle cx="83.60" cy="505.40" r="2.45" fill="none" stroke="#111" stroke-width="1.15"/>
<circle cx="47.80" cy="523.90" r="2.45" fill="none" stroke="#111" stroke-width="1.15"/>
<circle cx="44.20" cy="563.00" r="2.45" fill="none" stroke="#111" stroke-width="1.15"/>
<circle cx="52.40" cy="562.50" r="2.45" fill="none" stroke="#111" stroke-width="1.15"/>
<circle cx="50.00" cy="572.00" r="2.45" fill="none" stroke="#111" stroke-width="1.15"/>
<circle cx="42.10" cy="579.90" r="2.45" fill="none" stroke="#111" stroke-width="1.15"/>
<circle cx="44.60" cy="582.20" r="2.45" fill="none" stroke="#111" stroke-width="1.15"/>
<circle cx="59.90" cy="580.70" r="2.45" fill="none" stroke="#111" stroke-width="1.15"/>
<circle cx="63.40" cy="583.00" r="2.45" fill="none" stroke="#111" stroke-width="1.15"/>
<circle cx="47.60" cy="590.90" r="2.45" fill="none" stroke="#111" stroke-width="1.15"/>
<circle cx="69.10" cy="592.20" r="2.45" fill="none" stroke="#111" stroke-width="1.15"/>
<circle cx="47.30" cy="596.40" r="2.45" fill="none" stroke="#111" stroke-width="1.15"/>
<circle cx="48.90" cy="596.40" r="2.45" fill="none" stroke="#111" stroke-width="1.15"/>
<circle cx="45.00" cy="599.60" r="2.45" fill="none" stroke="#111" stroke-width="1.15"/>
<circle cx="46.50" cy="598.80" r="2.45" fill="none" stroke="#111" stroke-width="1.15"/>
<circle cx="61.50" cy="597.70" r="2.45" fill="none" stroke="#111" stroke-width="1.15"/>
<circle cx="64.70" cy="597.70" r="2.45" fill="none" stroke="#111" stroke-width="1.15"/>
<circle cx="78.50" cy="596.10" r="2.45" fill="none" stroke="#111" stroke-width="1.15"/>
<circle cx="191.60" cy="562.70" r="2.45" fill="none" stroke="#111" stroke-width="1.15"/>
<circle cx="145.40" cy="581.40" r="2.45" fill="none" stroke="#111" stroke-width="1.15"/>
<circle cx="121.50" cy="599.00" r="2.45" fill="none" stroke="#111" stroke-width="1.15"/>
<rect x="299.20" y="497.00" width="166.60" height="111.80" fill="none" stroke="#111" stroke-width="1.55"/>
<line x1="299.20" y1="595.50" x2="465.80" y2="595.50" stroke="#aaa" stroke-width="0.9"/>
<line x1="299.20" y1="595.50" x2="402.00" y2="595.50" stroke="#222" stroke-width="1.2" stroke-dasharray="1.5 1.45"/>
<line x1="402.00" y1="595.50" x2="465.80" y2="595.50" stroke="#666" stroke-width="1.1" stroke-dasharray="1.5 1.45"/>
<line x1="295.70" y1="595.50" x2="299.20" y2="595.50" stroke="#111" stroke-width="1.15"/>
<line x1="295.70" y1="589.35" x2="299.20" y2="589.35" stroke="#111" stroke-width="1.15"/>
<line x1="295.70" y1="583.19" x2="299.20" y2="583.19" stroke="#111" stroke-width="1.15"/>
<line x1="295.70" y1="577.03" x2="299.20" y2="577.03" stroke="#111" stroke-width="1.15"/>
<line x1="295.70" y1="570.88" x2="299.20" y2="570.88" stroke="#111" stroke-width="1.15"/>
<line x1="295.70" y1="564.73" x2="299.20" y2="564.73" stroke="#111" stroke-width="1.15"/>
<line x1="295.70" y1="558.57" x2="299.20" y2="558.57" stroke="#111" stroke-width="1.15"/>
<line x1="295.70" y1="552.41" x2="299.20" y2="552.41" stroke="#111" stroke-width="1.15"/>
<line x1="295.70" y1="546.26" x2="299.20" y2="546.26" stroke="#111" stroke-width="1.15"/>
<line x1="295.70" y1="540.11" x2="299.20" y2="540.11" stroke="#111" stroke-width="1.15"/>
<line x1="295.70" y1="533.95" x2="299.20" y2="533.95" stroke="#111" stroke-width="1.15"/>
<line x1="295.70" y1="527.79" x2="299.20" y2="527.79" stroke="#111" stroke-width="1.15"/>
<line x1="295.70" y1="521.64" x2="299.20" y2="521.64" stroke="#111" stroke-width="1.15"/>
<line x1="295.70" y1="515.49" x2="299.20" y2="515.49" stroke="#111" stroke-width="1.15"/>
<line x1="295.70" y1="509.33" x2="299.20" y2="509.33" stroke="#111" stroke-width="1.15"/>
<line x1="295.70" y1="503.18" x2="299.20" y2="503.18" stroke="#111" stroke-width="1.15"/>
<line x1="295.70" y1="607.81" x2="299.20" y2="607.81" stroke="#111" stroke-width="1.15"/>
<text x="279.10" y="500.90" font-size="10.4" font-weight="bold" textLength="11.30" lengthAdjust="spacingAndGlyphs" stroke="#111" stroke-width="0.3">16</text>
<text x="279.10" y="525.60" font-size="10.4" font-weight="bold" textLength="11.30" lengthAdjust="spacingAndGlyphs" stroke="#111" stroke-width="0.3">12</text>
<text x="283.60" y="550.10" font-size="10.4" font-weight="bold" textLength="5.70" lengthAdjust="spacingAndGlyphs" stroke="#111" stroke-width="0.3">8</text>
<text x="283.60" y="574.70" font-size="10.4" font-weight="bold" textLength="5.70" lengthAdjust="spacingAndGlyphs" stroke="#111" stroke-width="0.3">4</text>
<text x="283.60" y="599.40" font-size="10.4" font-weight="bold" textLength="5.70" lengthAdjust="spacingAndGlyphs" stroke="#111" stroke-width="0.3">0</text>
<line x1="299.50" y1="608.80" x2="299.50" y2="611.60" stroke="#111" stroke-width="1.0"/>
<line x1="307.83" y1="608.80" x2="307.83" y2="611.10" stroke="#111" stroke-width="1.0"/>
<line x1="316.16" y1="608.80" x2="316.16" y2="611.60" stroke="#111" stroke-width="1.0"/>
<line x1="324.49" y1="608.80" x2="324.49" y2="611.10" stroke="#111" stroke-width="1.0"/>
<line x1="332.82" y1="608.80" x2="332.82" y2="611.60" stroke="#111" stroke-width="1.0"/>
<line x1="341.15" y1="608.80" x2="341.15" y2="611.10" stroke="#111" stroke-width="1.0"/>
<line x1="349.48" y1="608.80" x2="349.48" y2="611.60" stroke="#111" stroke-width="1.0"/>
<line x1="357.81" y1="608.80" x2="357.81" y2="611.10" stroke="#111" stroke-width="1.0"/>
<line x1="366.14" y1="608.80" x2="366.14" y2="611.60" stroke="#111" stroke-width="1.0"/>
<line x1="374.47" y1="608.80" x2="374.47" y2="611.10" stroke="#111" stroke-width="1.0"/>
<line x1="382.80" y1="608.80" x2="382.80" y2="611.60" stroke="#111" stroke-width="1.0"/>
<line x1="391.13" y1="608.80" x2="391.13" y2="611.10" stroke="#111" stroke-width="1.0"/>
<line x1="399.46" y1="608.80" x2="399.46" y2="611.60" stroke="#111" stroke-width="1.0"/>
<line x1="407.79" y1="608.80" x2="407.79" y2="611.10" stroke="#111" stroke-width="1.0"/>
<line x1="416.12" y1="608.80" x2="416.12" y2="611.60" stroke="#111" stroke-width="1.0"/>
<line x1="424.45" y1="608.80" x2="424.45" y2="611.10" stroke="#111" stroke-width="1.0"/>
<line x1="432.78" y1="608.80" x2="432.78" y2="611.60" stroke="#111" stroke-width="1.0"/>
<line x1="441.11" y1="608.80" x2="441.11" y2="611.10" stroke="#111" stroke-width="1.0"/>
<line x1="449.44" y1="608.80" x2="449.44" y2="611.60" stroke="#111" stroke-width="1.0"/>
<text x="297.00" y="625.80" font-size="10.2" font-weight="bold" textLength="5.40" lengthAdjust="spacingAndGlyphs" stroke="#111" stroke-width="0.3">0</text>
<text x="323.00" y="625.80" font-size="10.2" font-weight="bold" textLength="24.00" lengthAdjust="spacingAndGlyphs" stroke="#111" stroke-width="0.3">2000</text>
<text x="356.30" y="625.80" font-size="10.2" font-weight="bold" textLength="23.70" lengthAdjust="spacingAndGlyphs" stroke="#111" stroke-width="0.3">4000</text>
<text x="390.00" y="625.80" font-size="10.2" font-weight="bold" textLength="23.70" lengthAdjust="spacingAndGlyphs" stroke="#111" stroke-width="0.3">6000</text>
<text x="423.00" y="625.80" font-size="10.2" font-weight="bold" textLength="23.30" lengthAdjust="spacingAndGlyphs" stroke="#111" stroke-width="0.3">8000</text>
<text x="454.00" y="625.80" font-size="10.2" font-weight="bold" textLength="29.20" lengthAdjust="spacingAndGlyphs" stroke="#111" stroke-width="0.3">10000</text>
<text x="334.50" y="645.80" font-size="11.6" font-weight="bold" textLength="86.80" lengthAdjust="spacingAndGlyphs" stroke="#111" stroke-width="0.3">G-CSF (pg/mL)</text>
<g transform="translate(267.50 601.10) rotate(-90)" font-weight="bold" font-size="11.6" stroke="#111" stroke-width="0.3">
<text x="0" y="0">DC2</text>
<text x="30.5" y="0">x</text>
<text x="40.9" y="0">10</text>
<text x="58.5" y="-3.6" font-size="6.6">-3</text>
<text x="66.0" y="0" textLength="21.0" lengthAdjust="spacingAndGlyphs">/mL</text>
</g>
<text x="423.90" y="511.30" font-size="10.5" font-weight="bold" font-style="italic" textLength="34.00" lengthAdjust="spacingAndGlyphs" stroke="#111" stroke-width="0.3">R=0.47</text>
<text x="423.10" y="524.00" font-size="10.5" font-weight="normal" font-style="italic" textLength="31.00" lengthAdjust="spacingAndGlyphs" fill="#1a1a1a" stroke="#1a1a1a" stroke-width="0.22">P&gt;.05</text>
<line x1="299.20" y1="580.20" x2="465.80" y2="559.50" stroke="#111" stroke-width="1.2"/>
<circle cx="341.60" cy="508.20" r="2.45" fill="none" stroke="#111" stroke-width="1.15"/>
<circle cx="301.40" cy="521.90" r="2.45" fill="none" stroke="#111" stroke-width="1.15"/>
<circle cx="305.20" cy="542.10" r="2.45" fill="none" stroke="#111" stroke-width="1.15"/>
<circle cx="301.70" cy="560.60" r="2.45" fill="none" stroke="#111" stroke-width="1.15"/>
<circle cx="307.40" cy="560.60" r="2.45" fill="none" stroke="#111" stroke-width="1.15"/>
<circle cx="309.50" cy="579.00" r="2.45" fill="none" stroke="#111" stroke-width="1.15"/>
<circle cx="317.30" cy="581.90" r="2.45" fill="none" stroke="#111" stroke-width="1.15"/>
<circle cx="299.10" cy="589.70" r="2.45" fill="none" stroke="#111" stroke-width="1.15"/>
<circle cx="304.80" cy="591.40" r="2.45" fill="none" stroke="#111" stroke-width="1.15"/>
<circle cx="305.20" cy="593.70" r="2.45" fill="none" stroke="#111" stroke-width="1.15"/>
<circle cx="303.50" cy="595.20" r="2.45" fill="none" stroke="#111" stroke-width="1.15"/>
<circle cx="304.30" cy="595.80" r="2.45" fill="none" stroke="#111" stroke-width="1.15"/>
<circle cx="319.90" cy="588.80" r="2.45" fill="none" stroke="#111" stroke-width="1.15"/>
<circle cx="318.20" cy="591.40" r="2.45" fill="none" stroke="#111" stroke-width="1.15"/>
<circle cx="321.60" cy="594.00" r="2.45" fill="none" stroke="#111" stroke-width="1.15"/>
<circle cx="326.50" cy="589.70" r="2.45" fill="none" stroke="#111" stroke-width="1.15"/>
<circle cx="335.50" cy="594.90" r="2.45" fill="none" stroke="#111" stroke-width="1.15"/>
<circle cx="448.50" cy="543.90" r="2.45" fill="none" stroke="#111" stroke-width="1.15"/>
<circle cx="402.30" cy="582.40" r="2.45" fill="none" stroke="#111" stroke-width="1.15"/>
<circle cx="378.40" cy="595.30" r="2.45" fill="none" stroke="#111" stroke-width="1.15"/>
<circle cx="302.80" cy="593.20" r="2.45" fill="none" stroke="#111" stroke-width="1.15"/>
<circle cx="306.60" cy="594.40" r="2.45" fill="none" stroke="#111" stroke-width="1.15"/>
<text x="-0.10" y="661.30" font-size="24.5" font-weight="bold" stroke="#111" stroke-width="0.3">D</text>
<rect x="42.20" y="673.50" width="166.20" height="110.30" fill="none" stroke="#111" stroke-width="1.6"/>
<line x1="38.40" y1="783.80" x2="42.20" y2="783.80" stroke="#111" stroke-width="1.1"/>
<line x1="42.20" y1="771.60" x2="208.40" y2="771.60" stroke="#111" stroke-width="1.3" stroke-dasharray="1.55 1.4"/>
<line x1="38.20" y1="771.60" x2="42.20" y2="771.60" stroke="#111" stroke-width="1.1"/>
<line x1="38.20" y1="747.00" x2="42.20" y2="747.00" stroke="#111" stroke-width="1.1"/>
<line x1="38.20" y1="722.40" x2="42.20" y2="722.40" stroke="#111" stroke-width="1.1"/>
<line x1="38.20" y1="697.80" x2="42.20" y2="697.80" stroke="#111" stroke-width="1.1"/>
<line x1="38.20" y1="673.20" x2="42.20" y2="673.20" stroke="#111" stroke-width="1.1"/>
<text x="21.00" y="679.10" font-size="9.5" font-weight="bold" textLength="12.80" lengthAdjust="spacing" stroke="#111" stroke-width="0.3">40</text>
<text x="21.00" y="700.20" font-size="9.5" font-weight="bold" textLength="12.80" lengthAdjust="spacing" stroke="#111" stroke-width="0.3">30</text>
<text x="21.00" y="723.00" font-size="9.5" font-weight="bold" textLength="12.80" lengthAdjust="spacing" stroke="#111" stroke-width="0.3">20</text>
<text x="21.00" y="746.00" font-size="9.5" font-weight="bold" textLength="12.80" lengthAdjust="spacing" stroke="#111" stroke-width="0.3">10</text>
<text x="25.70" y="769.30" font-size="9.5" font-weight="bold" stroke="#111" stroke-width="0.3">0</text>
<line x1="42.20" y1="783.80" x2="42.20" y2="787.20" stroke="#111" stroke-width="1.0"/>
<line x1="62.94" y1="783.80" x2="62.94" y2="786.40" stroke="#111" stroke-width="1.0"/>
<line x1="83.68" y1="783.80" x2="83.68" y2="787.20" stroke="#111" stroke-width="1.0"/>
<line x1="104.42" y1="783.80" x2="104.42" y2="786.40" stroke="#111" stroke-width="1.0"/>
<line x1="125.16" y1="783.80" x2="125.16" y2="787.20" stroke="#111" stroke-width="1.0"/>
<line x1="145.90" y1="783.80" x2="145.90" y2="786.40" stroke="#111" stroke-width="1.0"/>
<line x1="166.64" y1="783.80" x2="166.64" y2="787.20" stroke="#111" stroke-width="1.0"/>
<line x1="187.38" y1="783.80" x2="187.38" y2="786.40" stroke="#111" stroke-width="1.0"/>
<line x1="208.12" y1="783.80" x2="208.12" y2="787.20" stroke="#111" stroke-width="1.0"/>
<text x="40.00" y="800.90" font-size="9.9" font-weight="bold" textLength="5.00" lengthAdjust="spacing" stroke="#111" stroke-width="0.3">0</text>
<text x="77.00" y="800.90" font-size="9.9" font-weight="bold" textLength="18.90" lengthAdjust="spacing" stroke="#111" stroke-width="0.3">500</text>
<text x="116.40" y="800.90" font-size="9.9" font-weight="bold" textLength="23.90" lengthAdjust="spacing" stroke="#111" stroke-width="0.3">1000</text>
<text x="157.90" y="800.90" font-size="9.9" font-weight="bold" textLength="24.40" lengthAdjust="spacing" stroke="#111" stroke-width="0.3">1500</text>
<text x="198.90" y="800.90" font-size="9.9" font-weight="bold" textLength="24.60" lengthAdjust="spacing" stroke="#111" stroke-width="0.3">2000</text>
<text x="95.60" y="817.10" font-size="11.6" font-weight="bold" textLength="73.20" lengthAdjust="spacingAndGlyphs" stroke="#111" stroke-width="0.3">SCF (pg/mL)</text>
<g transform="translate(13.50 763.10) rotate(-90)" font-weight="bold" font-size="11.6" stroke="#111" stroke-width="0.3">
<text x="0" y="0">DC1</text>
<text x="30.5" y="0">x</text>
<text x="40.9" y="0">10</text>
<text x="58.5" y="-3.6" font-size="6.6">-3</text>
<text x="66.0" y="0" textLength="21.0" lengthAdjust="spacingAndGlyphs">/mL</text>
</g>
<text x="170.30" y="686.10" font-size="10.5" font-weight="bold" font-style="italic" textLength="34.30" lengthAdjust="spacingAndGlyphs" stroke="#111" stroke-width="0.3">R=0.55</text>
<text x="169.40" y="699.70" font-size="10.5" font-weight="normal" font-style="italic" textLength="31.30" lengthAdjust="spacingAndGlyphs" fill="#1a1a1a" stroke="#1a1a1a" stroke-width="0.22">P&gt; .05</text>
<line x1="42.20" y1="771.30" x2="208.40" y2="715.10" stroke="#111" stroke-width="1.4"/>
<circle cx="77.00" cy="678.40" r="2.45" fill="none" stroke="#111" stroke-width="1.15"/>
<circle cx="81.20" cy="725.20" r="2.45" fill="none" stroke="#111" stroke-width="1.15"/>
<circle cx="84.80" cy="725.90" r="2.45" fill="none" stroke="#111" stroke-width="1.15"/>
<circle cx="70.50" cy="750.60" r="2.45" fill="none" stroke="#111" stroke-width="1.15"/>
<circle cx="80.00" cy="760.70" r="2.45" fill="none" stroke="#111" stroke-width="1.15"/>
<circle cx="53.60" cy="769.80" r="2.45" fill="none" stroke="#111" stroke-width="1.15"/>
<circle cx="64.30" cy="770.90" r="2.45" fill="none" stroke="#111" stroke-width="1.15"/>
<circle cx="66.20" cy="768.30" r="2.45" fill="none" stroke="#111" stroke-width="1.15"/>
<circle cx="68.60" cy="765.90" r="2.45" fill="none" stroke="#111" stroke-width="1.15"/>
<circle cx="70.20" cy="766.70" r="2.45" fill="none" stroke="#111" stroke-width="1.15"/>
<circle cx="72.90" cy="771.90" r="2.45" fill="none" stroke="#111" stroke-width="1.15"/>
<circle cx="75.20" cy="766.70" r="2.45" fill="none" stroke="#111" stroke-width="1.15"/>
<circle cx="84.60" cy="769.70" r="2.45" fill="none" stroke="#111" stroke-width="1.15"/>
<circle cx="87.80" cy="768.80" r="2.45" fill="none" stroke="#111" stroke-width="1.15"/>
<circle cx="87.80" cy="737.70" r="2.45" fill="none" stroke="#111" stroke-width="1.15"/>
<circle cx="131.90" cy="749.90" r="2.45" fill="none" stroke="#111" stroke-width="1.15"/>
<circle cx="163.60" cy="762.40" r="2.45" fill="none" stroke="#111" stroke-width="1.15"/>
<line x1="300.60" y1="675.00" x2="300.60" y2="786.40" stroke="#111" stroke-width="1.3"/>
<line x1="305.80" y1="675.50" x2="471.50" y2="675.50" stroke="#111" stroke-width="2.2"/>
<line x1="470.70" y1="675.50" x2="470.70" y2="787.70" stroke="#111" stroke-width="1.6"/>
<line x1="305.00" y1="787.10" x2="470.70" y2="787.10" stroke="#111" stroke-width="1.3"/>
<line x1="303.50" y1="777.90" x2="467.40" y2="777.90" stroke="#111" stroke-width="1.3" stroke-dasharray="1.55 1.4"/>
<line x1="296.30" y1="777.90" x2="300.60" y2="777.90" stroke="#111" stroke-width="1.1"/>
<line x1="296.30" y1="760.85" x2="300.60" y2="760.85" stroke="#111" stroke-width="1.1"/>
<line x1="296.30" y1="743.80" x2="300.60" y2="743.80" stroke="#111" stroke-width="1.1"/>
<line x1="296.30" y1="726.75" x2="300.60" y2="726.75" stroke="#111" stroke-width="1.1"/>
<line x1="296.30" y1="709.70" x2="300.60" y2="709.70" stroke="#111" stroke-width="1.1"/>
<line x1="296.30" y1="692.65" x2="300.60" y2="692.65" stroke="#111" stroke-width="1.1"/>
<line x1="296.30" y1="675.60" x2="300.60" y2="675.60" stroke="#111" stroke-width="1.1"/>
<line x1="297.00" y1="786.00" x2="300.60" y2="786.00" stroke="#111" stroke-width="1.1"/>
<text x="282.60" y="677.00" font-size="9.5" font-weight="bold" textLength="12.40" lengthAdjust="spacing" stroke="#111" stroke-width="0.3">12</text>
<text x="282.60" y="694.50" font-size="9.5" font-weight="bold" textLength="12.40" lengthAdjust="spacing" stroke="#111" stroke-width="0.3">10</text>
<text x="287.10" y="711.20" font-size="9.5" font-weight="bold" stroke="#111" stroke-width="0.3">8</text>
<text x="287.10" y="728.70" font-size="9.5" font-weight="bold" stroke="#111" stroke-width="0.3">6</text>
<text x="287.10" y="745.90" font-size="9.5" font-weight="bold" stroke="#111" stroke-width="0.3">4</text>
<text x="287.10" y="762.70" font-size="9.5" font-weight="bold" stroke="#111" stroke-width="0.3">2</text>
<text x="287.10" y="778.80" font-size="9.5" font-weight="bold" stroke="#111" stroke-width="0.3">0</text>
<line x1="305.00" y1="787.10" x2="305.00" y2="790.50" stroke="#111" stroke-width="1.0"/>
<line x1="325.70" y1="787.10" x2="325.70" y2="789.70" stroke="#111" stroke-width="1.0"/>
<line x1="346.40" y1="787.10" x2="346.40" y2="790.50" stroke="#111" stroke-width="1.0"/>
<line x1="367.10" y1="787.10" x2="367.10" y2="789.70" stroke="#111" stroke-width="1.0"/>
<line x1="387.80" y1="787.10" x2="387.80" y2="790.50" stroke="#111" stroke-width="1.0"/>
<line x1="408.50" y1="787.10" x2="408.50" y2="789.70" stroke="#111" stroke-width="1.0"/>
<line x1="429.20" y1="787.10" x2="429.20" y2="790.50" stroke="#111" stroke-width="1.0"/>
<line x1="449.90" y1="787.10" x2="449.90" y2="789.70" stroke="#111" stroke-width="1.0"/>
<line x1="470.60" y1="787.10" x2="470.60" y2="790.50" stroke="#111" stroke-width="1.0"/>
<text x="303.30" y="802.80" font-size="9.9" font-weight="bold" textLength="4.80" lengthAdjust="spacing" stroke="#111" stroke-width="0.3">0</text>
<text x="340.10" y="802.80" font-size="9.9" font-weight="bold" textLength="19.10" lengthAdjust="spacing" stroke="#111" stroke-width="0.3">500</text>
<text x="379.80" y="802.80" font-size="9.9" font-weight="bold" textLength="23.70" lengthAdjust="spacing" stroke="#111" stroke-width="0.3">1000</text>
<text x="421.30" y="802.80" font-size="9.9" font-weight="bold" textLength="24.10" lengthAdjust="spacing" stroke="#111" stroke-width="0.3">1500</text>
<text x="462.50" y="802.80" font-size="9.9" font-weight="bold" textLength="24.60" lengthAdjust="spacing" stroke="#111" stroke-width="0.3">2000</text>
<text x="348.00" y="818.80" font-size="11.6" font-weight="bold" textLength="73.20" lengthAdjust="spacingAndGlyphs" stroke="#111" stroke-width="0.3">SCF (pg/mL)</text>
<g transform="translate(267.20 772.70) rotate(-90)" font-weight="bold" font-size="11.6" stroke="#111" stroke-width="0.3">
<text x="0" y="0">DC2</text>
<text x="30.5" y="0">x</text>
<text x="40.9" y="0">10</text>
<text x="58.5" y="-3.6" font-size="6.6">-3</text>
<text x="66.0" y="0" textLength="21.0" lengthAdjust="spacingAndGlyphs">/mL</text>
</g>
<text x="432.50" y="688.50" font-size="10.5" font-weight="bold" font-style="italic" textLength="34.20" lengthAdjust="spacingAndGlyphs" stroke="#111" stroke-width="0.3">R=0.57</text>
<text x="432.80" y="701.90" font-size="10.5" font-weight="normal" font-style="italic" textLength="31.20" lengthAdjust="spacingAndGlyphs" fill="#1a1a1a" stroke="#1a1a1a" stroke-width="0.22"><tspan dy="1.2">P</tspan><tspan dy="-1.2">&gt;.05</tspan></text>
<line x1="304.30" y1="777.70" x2="470.70" y2="714.50" stroke="#111" stroke-width="1.4"/>
<circle cx="339.80" cy="702.70" r="2.45" fill="none" stroke="#111" stroke-width="1.15"/>
<circle cx="344.40" cy="755.00" r="2.45" fill="none" stroke="#111" stroke-width="1.15"/>
<circle cx="316.80" cy="777.30" r="2.45" fill="none" stroke="#111" stroke-width="1.15"/>
<circle cx="327.70" cy="771.60" r="2.45" fill="none" stroke="#111" stroke-width="1.15"/>
<circle cx="330.60" cy="773.40" r="2.45" fill="none" stroke="#111" stroke-width="1.15"/>
<circle cx="333.70" cy="769.00" r="2.45" fill="none" stroke="#111" stroke-width="1.15"/>
<circle cx="331.70" cy="778.60" r="2.45" fill="none" stroke="#111" stroke-width="1.15"/>
<circle cx="335.50" cy="778.60" r="2.45" fill="none" stroke="#111" stroke-width="1.15"/>
<circle cx="338.90" cy="777.30" r="2.45" fill="none" stroke="#111" stroke-width="1.15"/>
<circle cx="342.70" cy="771.00" r="2.45" fill="none" stroke="#111" stroke-width="1.15"/>
<circle cx="348.60" cy="706.20" r="2.45" fill="none" stroke="#111" stroke-width="1.15"/>
<circle cx="350.40" cy="729.60" r="2.45" fill="none" stroke="#111" stroke-width="1.15"/>
<circle cx="395.30" cy="729.30" r="2.45" fill="none" stroke="#111" stroke-width="1.15"/>
<circle cx="427.00" cy="769.80" r="2.45" fill="none" stroke="#111" stroke-width="1.15"/>
<circle cx="347.80" cy="777.30" r="2.45" fill="none" stroke="#111" stroke-width="1.15"/>
<circle cx="350.90" cy="776.80" r="2.45" fill="none" stroke="#111" stroke-width="1.15"/>
</svg></body></html>
